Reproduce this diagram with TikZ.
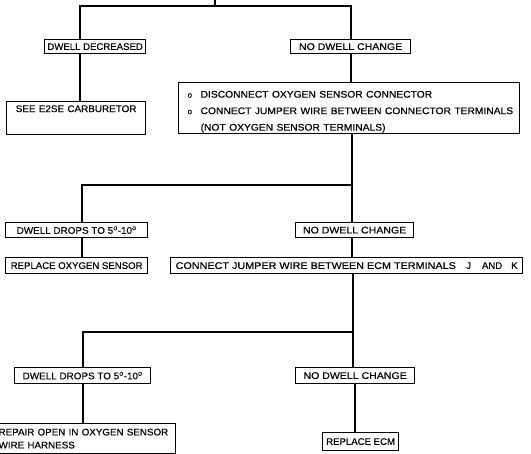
\documentclass[tikz,border=0pt]{standalone}
\usepackage{graphicx}
\usepackage{fontspec}
\setmainfont{Liberation Sans}[FakeBold=0.4]
\begin{document}
\begin{tikzpicture}[x=1pt, y=-1pt,
  box/.style={draw, line width=1.25pt, inner sep=0pt, anchor=north west,
    font=\fontsize{9.6}{12}\selectfont},
  leftbox/.style={box, align=left, inner xsep=6pt},
  wire/.style={line width=1.15pt, line cap=rect}]
\useasboundingbox (0,0) rectangle (531,454);
\clip (0,0) rectangle (531,454);
\newcommand{\degsym}{\textsuperscript{\scriptsize o}}
\newcommand{\bul}{\makebox[13pt][l]{\footnotesize o}}
\newcommand{\wide}[2]{\scalebox{#1}[1]{#2}}

% first level
\node[box, minimum width=101, minimum height=14] (dd) at (44,39) {DWELL DECREASED};
\node[box, text width=127, align=center, minimum width=139, minimum height=33,
      font=\fontsize{9.6}{17}\selectfont] (see) at (6,101)
  {\rule{0pt}{10pt}\wide{1.03}{SEE E2SE CARBURETOR}\\\strut};
\node[box, minimum width=120, minimum height=14] (ndc1) at (290,39) {\wide{1.1}{NO DWELL CHANGE}};
\node[leftbox, text width=323, minimum height=51, inner xsep=9pt,
      font=\fontsize{9.6}{16.5}\selectfont] (big) at (178,82)
  {\rule{0pt}{14pt}\bul\wide{1.07}{DISCONNECT OXYGEN SENSOR CONNECTOR}\\
   \bul\wide{1.07}{CONNECT JUMPER WIRE BETWEEN CONNECTOR TERMINALS}\\
   \hspace*{13pt}\wide{1.07}{(NOT OXYGEN SENSOR TERMINALS)}};

% second level
\node[box, minimum width=142, minimum height=15] (dd2) at (5,222) {\wide{1.03}{DWELL DROPS TO 5\degsym-10\degsym}};
\node[box, minimum width=142, minimum height=16] (ros) at (5,257) {REPLACE OXYGEN SENSOR};
\node[box, minimum width=118, minimum height=15] (ndc2) at (295,222) {\wide{1.1}{NO DWELL CHANGE}};
\node[box, minimum width=352, minimum height=16] (jmp) at (170,257)
  {\makebox[342pt][l]{\wide{1.125}{CONNECT JUMPER WIRE BETWEEN ECM TERMINALS}\hfill J\hspace{11pt}AND\hspace{9pt}K}};

% third level
\node[box, minimum width=136, minimum height=16] (dd3) at (14,367) {\wide{1.03}{DWELL DROPS TO 5\degsym-10\degsym}};
\node[leftbox, text width=171, minimum height=30, inner xsep=6pt,
      font=\fontsize{9.6}{13}\selectfont] (rep) at (-8,423)
  {\wide{1.02}{REPAIR OPEN IN OXYGEN SENSOR}\\\wide{1.02}{WIRE HARNESS}};
\node[box, minimum width=119, minimum height=16] (ndc3) at (295,367) {\wide{1.1}{NO DWELL CHANGE}};
\node[box, minimum width=76, minimum height=18] (recm) at (322,432) {REPLACE ECM};

% connector junctions
\coordinate (top) at (215,0);
\coordinate (b1) at (215,6);
\coordinate (b1L) at (80,6);
\coordinate (b1R) at (351,6);
\coordinate (b2L) at (82,185);
\coordinate (b2R) at (352,185);
\coordinate (b3L) at (83,332);
\coordinate (b3R) at (353,332);
\coordinate (b4R) at (355,332);

% connectors
\draw[wire] (top) -- (b1);
\draw[wire] (b1L |- dd.north) -- (b1L) -- (b1R) -- (b1R |- ndc1.north);
\draw[wire] (b1L |- dd.south) -- (b1L |- see.north);
\draw[wire] (b1R |- ndc1.south) -- (b1R |- big.north);

\draw[wire] (b2R |- big.south) -- (b2R |- ndc2.north);
\draw[wire] (b2L |- dd2.north) -- (b2L) -- (b2R);
\draw[wire] (b2L |- dd2.south) -- (b2L |- ros.north);
\draw[wire] (b2R |- ndc2.south) -- (b2R |- jmp.north);

\draw[wire] (b3R |- jmp.south) -- (b3R |- ndc3.north);
\draw[wire] (b3L |- dd3.north) -- (b3L) -- (b3R);
\draw[wire] (b3L |- dd3.south) -- (b3L |- rep.north);
\draw[wire] (b4R |- ndc3.south) -- (b4R |- recm.north);
\end{tikzpicture}
\end{document}
